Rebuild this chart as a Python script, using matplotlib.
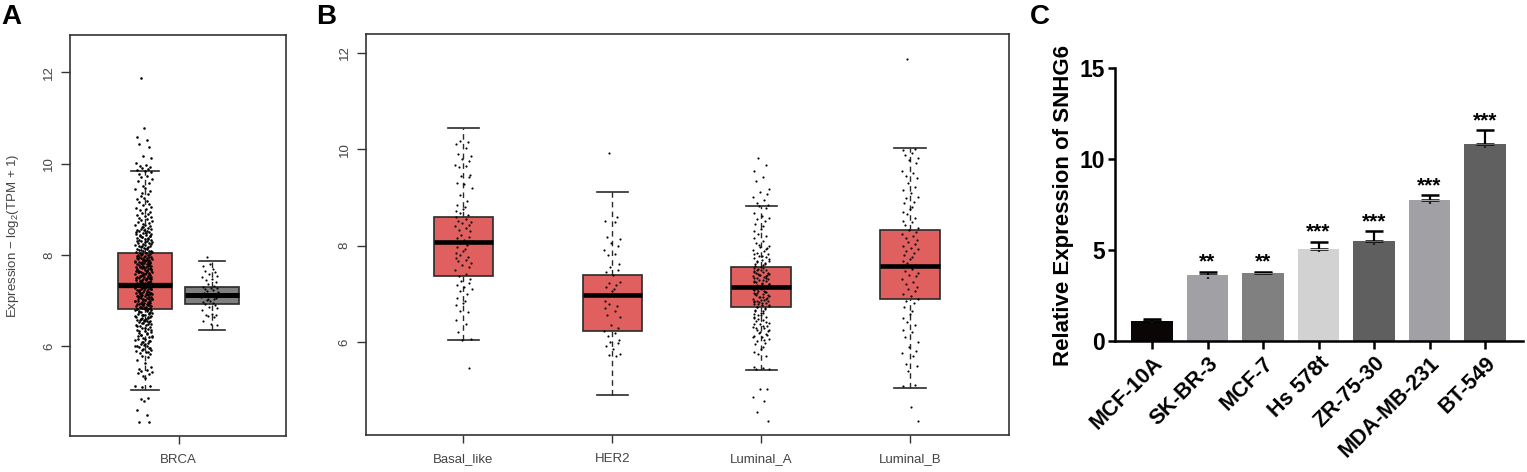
import matplotlib
matplotlib.use('Agg')
import matplotlib.pyplot as plt
import numpy as np

plt.rcParams['font.family'] = ['Liberation Sans', 'DejaVu Sans']
plt.rcParams['mathtext.fontset'] = 'custom'
plt.rcParams['mathtext.rm'] = 'Liberation Sans'

W, H = 1527, 472
RED = '#e06060'
GREY = '#7f7f7f'
EDGE = '#2a2a2a'
TXT = '#444444'

# panel A: low whisker, q1, median, q3, high whisker
brca_tumor_box = [5.05, 6.83, 7.35, 8.05, 9.85]
brca_normal_box = [6.37, 6.92, 7.12, 7.30, 7.87]

brca_tumor = [
    11.88, 10.78, 10.58, 10.52, 10.44, 10.37, 10.18, 10.12, 10.02, 9.98, 9.95, 9.93, 9.9, 9.88, 9.86, 9.84, 9.82,
    9.78, 9.74, 9.7, 9.66, 9.62, 9.57, 9.52, 9.47, 9.44, 9.4, 9.36, 9.33, 9.29, 9.26, 9.22, 9.19, 9.16, 9.12, 9.09,
    9.06, 9.03, 9.0, 8.98, 8.95, 8.93, 8.9, 8.88, 8.86, 8.83, 8.81, 8.79, 8.77, 8.74, 8.72, 8.7, 8.68, 8.67, 8.65,
    8.63, 8.61, 8.6, 8.58, 8.56, 8.55, 8.53, 8.52, 8.5, 8.49, 8.47, 8.46, 8.44, 8.43, 8.41, 8.4, 8.38, 8.37, 8.35,
    8.34, 8.33, 8.31, 8.3, 8.29, 8.27, 8.26, 8.25, 8.23, 8.22, 8.21, 8.19, 8.18, 8.17, 8.15, 8.14, 8.13, 8.12, 8.1,
    8.09, 8.08, 8.07, 8.05, 8.04, 8.03, 8.02, 8.0, 7.99, 7.98, 7.97, 7.96, 7.94, 7.93, 7.92, 7.91, 7.9, 7.89, 7.88,
    7.87, 7.86, 7.85, 7.84, 7.83, 7.82, 7.81, 7.8, 7.79, 7.78, 7.77, 7.76, 7.75, 7.74, 7.73, 7.72, 7.71, 7.7, 7.69,
    7.68, 7.67, 7.66, 7.65, 7.64, 7.63, 7.62, 7.61, 7.6, 7.59, 7.58, 7.57, 7.56, 7.55, 7.54, 7.53, 7.52, 7.51, 7.5,
    7.49, 7.48, 7.47, 7.46, 7.45, 7.44, 7.43, 7.42, 7.41, 7.4, 7.39, 7.38, 7.37, 7.36, 7.35, 7.34, 7.33, 7.32, 7.31,
    7.3, 7.29, 7.28, 7.27, 7.26, 7.25, 7.24, 7.23, 7.22, 7.21, 7.2, 7.19, 7.18, 7.17, 7.16, 7.15, 7.14, 7.13, 7.12,
    7.11, 7.1, 7.09, 7.08, 7.07, 7.06, 7.05, 7.04, 7.03, 7.02, 7.01, 7.0, 6.99, 6.98, 6.97, 6.96, 6.95, 6.94, 6.93,
    6.92, 6.91, 6.9, 6.89, 6.88, 6.87, 6.86, 6.85, 6.84, 6.83, 6.82, 6.81, 6.8, 6.78, 6.77, 6.75, 6.74, 6.72, 6.71,
    6.69, 6.68, 6.66, 6.65, 6.63, 6.62, 6.6, 6.59, 6.57, 6.56, 6.54, 6.53, 6.51, 6.5, 6.48, 6.46, 6.44, 6.42, 6.4,
    6.38, 6.36, 6.34, 6.32, 6.3, 6.28, 6.26, 6.24, 6.22, 6.2, 6.18, 6.16, 6.14, 6.12, 6.1, 6.08, 6.06, 6.04, 6.02,
    6.0, 5.98, 5.96, 5.94, 5.92, 5.9, 5.88, 5.86, 5.83, 5.8, 5.76, 5.7, 5.63, 5.55, 5.5, 5.48, 5.46, 5.44, 5.42, 5.4,
    5.36, 5.32, 5.14, 5.13, 5.12, 4.87, 4.86, 4.8, 4.6, 4.5, 4.35, 4.35,
]
# second pass over the solid middle of the BRCA strip
brca_tumor_core = [
    8.62, 8.57, 8.51, 8.48, 8.45, 8.42, 8.39, 8.36, 8.32, 8.28, 8.24, 8.2, 8.16, 8.11, 8.06, 8.01, 7.95, 7.92, 7.89,
    7.86, 7.83, 7.8, 7.77, 7.74, 7.71, 7.68, 7.65, 7.62, 7.59, 7.56, 7.53, 7.5, 7.47, 7.44, 7.41, 7.38, 7.35, 7.32,
    7.29, 7.26, 7.23, 7.2, 7.17, 7.14, 7.11, 7.08, 7.05, 7.02, 6.99, 6.96, 6.93, 6.9, 6.87, 6.84, 6.81, 6.79, 6.76,
    6.73, 6.7, 6.67, 6.64, 6.61, 6.58, 6.55, 6.52, 6.49, 6.45, 6.41, 6.37, 6.33, 6.29, 6.25, 6.21, 6.17, 6.13, 6.09,
    6.05, 6.01, 5.97, 5.93, 5.89, 8.0, 7.97, 7.94, 7.9, 7.85, 7.8, 7.75, 7.7, 7.65, 7.6, 7.55, 7.5, 7.45, 7.4, 7.35,
    7.3, 7.25, 7.2, 7.15, 7.1, 7.05, 7.0, 6.95, 6.9, 6.85, 6.8, 6.75, 6.7, 6.65, 6.6, 6.55,
]
brca_normal = [
    7.97, 7.8, 7.76, 7.7, 7.65, 7.62, 7.58, 7.55, 7.52, 7.48, 7.45, 7.42, 7.36, 7.33, 7.31, 7.29, 7.27, 7.25, 7.23,
    7.21, 7.19, 7.17, 7.15, 7.13, 7.11, 7.09, 7.07, 7.05, 7.03, 7.01, 6.99, 6.97, 6.95, 6.93, 6.9, 6.87, 6.84, 6.8,
    6.72, 6.7, 6.68, 6.66, 6.64, 6.55, 6.5, 6.48,
]

# panel B
subtypes = ['Basal_like', 'HER2', 'Luminal_A', 'Luminal_B']
subtype_boxes = [
    [6.05, 7.36, 8.07, 8.60, 10.44],
    [4.90, 6.22, 6.97, 7.40, 9.12],
    [5.42, 6.72, 7.14, 7.56, 8.82],
    [5.05, 6.90, 7.57, 8.33, 10.02],
]
basal_like = [
    10.18, 10.15, 10.1, 10.02, 9.9, 9.85, 9.8, 9.75, 9.68, 9.65, 9.63, 9.47, 9.44, 9.42, 9.3, 9.28, 9.2, 9.05, 8.92,
    8.85, 8.8, 8.76, 8.72, 8.68, 8.64, 8.6, 8.56, 8.52, 8.49, 8.46, 8.43, 8.4, 8.37, 8.33, 8.3, 8.22, 8.18, 8.15,
    8.12, 8.09, 8.05, 8.02, 7.98, 7.92, 7.88, 7.84, 7.8, 7.77, 7.74, 7.7, 7.67, 7.64, 7.6, 7.56, 7.5, 7.42, 7.36,
    7.3, 7.26, 7.22, 7.18, 7.14, 7.1, 7.05, 7.0, 6.92, 6.86, 6.8, 6.76, 6.65, 6.62, 6.45, 6.38, 6.2, 6.06, 6.05, 5.45,
]
her2 = [
    9.92, 8.6, 8.52, 8.48, 8.18, 8.14, 8.05, 8.0, 7.9, 7.82, 7.8, 7.62, 7.55, 7.5, 7.46, 7.38, 7.25, 7.22, 7.18,
    7.14, 7.1, 7.06, 6.85, 6.78, 6.75, 6.7, 6.65, 6.55, 6.52, 6.35, 6.28, 6.22, 6.18, 6.12, 6.05, 6.0, 5.97, 5.92,
    5.85, 5.75, 5.72, 5.7,
]
luminal_a = [
    9.82, 9.68, 9.55, 9.42, 9.35, 9.18, 9.12, 9.08, 9.0, 8.94, 8.88, 8.85, 8.82, 8.78, 8.68, 8.62, 8.58, 8.55, 8.5,
    8.45, 8.4, 8.35, 8.3, 8.25, 8.2, 8.15, 8.1, 8.05, 8.0, 7.97, 7.94, 7.91, 7.88, 7.85, 7.82, 7.79, 7.76, 7.74, 7.71,
    7.69, 7.66, 7.64, 7.61, 7.59, 7.56, 7.54, 7.52, 7.5, 7.48, 7.46, 7.44, 7.42, 7.4, 7.38, 7.36, 7.34, 7.32, 7.3,
    7.28, 7.26, 7.24, 7.22, 7.2, 7.18, 7.16, 7.14, 7.12, 7.1, 7.08, 7.06, 7.04, 7.02, 7.0, 6.98, 6.96, 6.94, 6.92,
    6.9, 6.88, 6.86, 6.84, 6.82, 6.8, 6.78, 6.76, 6.74, 6.72, 6.7, 6.67, 6.64, 6.61, 6.58, 6.55, 6.52, 6.49, 6.46,
    6.43, 6.4, 6.37, 6.34, 6.31, 6.28, 6.25, 6.22, 6.19, 6.16, 6.13, 6.1, 6.06, 6.02, 5.98, 5.95, 5.9, 5.85, 5.8, 5.75,
    5.7, 5.48, 5.46, 5.44, 5.43, 5.02, 5.02, 4.85, 4.78, 4.55, 4.37,
]
luminal_a_core = [
    8.02, 7.93, 7.83, 7.78, 7.72, 7.67, 7.62, 7.58, 7.53, 7.49, 7.45, 7.41, 7.37, 7.33, 7.29, 7.25, 7.21, 7.17, 7.13,
    7.09, 7.05, 7.01, 6.97, 6.93, 6.89, 6.85, 6.81, 6.77, 6.73, 6.69, 6.65, 6.6, 6.56, 6.51, 6.47, 6.42, 6.38, 6.33,
    6.29, 6.24, 6.2, 6.15, 6.11, 6.05, 7.5, 7.44, 7.38, 7.32, 7.26, 7.2, 7.15, 7.1, 7.04, 6.99, 6.94, 6.88, 6.83, 6.78,
]
luminal_b = [
    11.88, 10.0, 9.98, 9.92, 9.88, 9.82, 9.78, 9.72, 9.55, 9.5, 9.45, 9.4, 9.3, 9.22, 9.15, 9.1, 9.0, 8.98, 8.9, 8.88,
    8.8, 8.75, 8.7, 8.65, 8.58, 8.52, 8.48, 8.42, 8.36, 8.32, 8.28, 8.24, 8.2, 8.16, 8.12, 8.08, 8.04, 8.0, 7.96, 7.92,
    7.88, 7.84, 7.8, 7.76, 7.72, 7.68, 7.64, 7.6, 7.56, 7.52, 7.48, 7.44, 7.4, 7.36, 7.3, 7.25, 7.2, 7.15, 7.1, 7.05,
    7.0, 6.95, 6.9, 6.85, 6.8, 6.72, 6.65, 6.58, 6.5, 6.42, 6.35, 6.25, 6.2, 6.1, 6.0, 5.9, 5.82, 5.78, 5.7, 5.55,
    5.5, 5.4, 5.1, 5.08, 4.65, 4.37,
]
jitter_a = [-0.04, 0.0, -0.1, 0.05, -0.08, 0.08, -0.02, 0.11, -0.12, 0.03, -0.06, 0.09, -0.03, 0.06, -0.11, 0.01, 0.1,
            -0.07, 0.04, -0.05, 0.12, -0.09, 0.07, -0.01, 0.02, -0.13, 0.085, -0.035, 0.055]
jitter_b = [-0.02, 0.03, -0.05, 0.015, -0.035, 0.05, -0.01, 0.04, -0.055, 0.02, -0.03, 0.045, -0.015, 0.035, -0.045,
            0.005, 0.055, -0.025, 0.025, -0.04, 0.01, 0.0, -0.05]

# panel C
cell_lines = ['MCF-10A', 'SK-BR-3', 'MCF-7', 'Hs 578t', 'ZR-75-30', 'MDA-MB-231', 'BT-549']
expression = [1.10, 3.60, 3.72, 5.08, 5.50, 7.75, 10.82]
expression_err = [0.12, 0.20, 0.08, 0.37, 0.55, 0.25, 0.78]
stars = ['', '**', '**', '***', '***', '***', '***']
bar_colors = ['#0a0606', '#a0a0a5', '#808080', '#d2d2d2', '#5f5f5f', '#a0a0a5', '#606060']


def px_axes(fig, left, top, right, bottom):
    return fig.add_axes([left / W, 1 - bottom / H, (right - left) / W, (bottom - top) / H])


def draw_box(ax, x, stats, color, width, capw, vals, jitter, size, med_lw, shift=0.0):
    lo, q1, med, q3, hi = stats
    ax.plot([x, x], [lo, q1], color=EDGE, lw=1, ls=(0, (4, 3)), zorder=1)
    ax.plot([x, x], [q3, hi], color=EDGE, lw=1, ls=(0, (4, 3)), zorder=1)
    ax.plot([x - capw / 2, x + capw / 2], [lo, lo], color=EDGE, lw=1.2, zorder=1)
    ax.plot([x - capw / 2, x + capw / 2], [hi, hi], color=EDGE, lw=1.2, zorder=1)
    ax.bar(x, q3 - q1, width=width, bottom=q1, color=color, edgecolor=EDGE, lw=1.2, zorder=2)
    ax.plot([x - width / 2, x + width / 2], [med, med], color='black', lw=med_lw, solid_capstyle='butt', zorder=3)
    xs = [x + shift + jitter[i % len(jitter)] for i in range(len(vals))]
    ax.scatter(xs, vals, s=size, color='black', lw=0, zorder=4)


def style_box_axes(ax):
    for s in ax.spines.values():
        s.set_linewidth(1.2)
        s.set_color('#333333')
    ax.tick_params(axis='y', colors='#333333', labelcolor=TXT, labelsize=9.5, length=6.2, width=1, pad=4.5)
    ax.tick_params(axis='x', colors='#333333', labelcolor=TXT, labelsize=9.5, length=5.8, width=1, pad=7)
    ax.set_yticks([6, 8, 10, 12])
    for t in ax.get_yticklabels():
        t.set_rotation(90)
        t.set_va('center')


fig = plt.figure(figsize=(W / 100, H / 100), dpi=100)

# A
ax1 = px_axes(fig, 70, 35, 286, 436)
draw_box(ax1, 1, brca_tumor_box, RED, 0.8, 0.42, brca_tumor + brca_tumor_core, jitter_a, 3.4, 3.8, -0.015)
draw_box(ax1, 2, brca_normal_box, GREY, 0.8, 0.4, brca_normal, jitter_a, 2.4, 3.6, -0.03)
ax1.set_xlim(1 - 75 / 67, 2 + 74 / 67)
ax1.set_ylim(4.04, 12.82)
ax1.set_xticks([1.5])
ax1.set_xticklabels(['BRCA'])
style_box_axes(ax1)
ax1.set_ylabel(r'Expression $-$ log$_2$(TPM $+$ 1)', fontsize=9.5, color=TXT)
ax1.yaxis.set_label_coords((21 - 70) / 216, 0.5)

# B
ax2 = px_axes(fig, 365.5, 34, 1009, 435)
subtype_dots = [basal_like, her2, luminal_a + luminal_a_core, luminal_b]
for i, (stats, vals) in enumerate(zip(subtype_boxes, subtype_dots)):
    draw_box(ax2, i + 1, stats, RED, 0.4, 0.21, vals, jitter_b, 2.4, 3.3)
ax2.set_xlim(1 - 98 / 149, 4 + 99 / 149)
ax2.set_ylim(4.07, 12.39)
ax2.set_xticks([1, 2, 3, 4])
ax2.set_xticklabels(subtypes)
style_box_axes(ax2)

# C
ax3 = px_axes(fig, 1115, 68, 1523, 341)
x = np.arange(len(cell_lines))
ax3.bar(x, expression, width=0.74, color=bar_colors, zorder=2)
ax3.errorbar(x, expression, yerr=[[0] * len(x), expression_err], fmt='none', ecolor='black',
             elinewidth=1.6, capsize=6.5, capthick=1.8, zorder=3)
# lower cap of each error bar is not shown, only the short stem inside the bar
ax3.vlines(x, [v - min(e, 0.2) for v, e in zip(expression, expression_err)], expression,
           color='#222222', lw=1.6, zorder=3)
# hide the zero-length lower caps by painting the bar top back over them
ax3.bar(x, [0.06] * len(x), bottom=[v - 0.06 for v in expression], width=0.74, color=bar_colors, zorder=4)
for xi, v, e, s in zip(x, expression, expression_err, stars):
    ax3.text(xi, v + e + 0.52, s, ha='center', va='center', fontsize=15, fontweight='bold')
ax3.set_xlim(-37 / 55.5, 6 + 38 / 55.5)
ax3.set_ylim(0, 15)
ax3.set_yticks([0, 5, 10, 15])
ax3.set_xticks(x)
ax3.set_xticklabels(cell_lines, rotation=45, ha='right', rotation_mode='anchor', fontsize=15.5, fontweight='bold')
ax3.tick_params(axis='y', labelsize=16.5, length=5, width=1.8, pad=2)
ax3.tick_params(axis='x', length=5.5, width=1.8, pad=3)
for t in ax3.get_yticklabels():
    t.set_fontweight('bold')
ax3.spines['top'].set_visible(False)
ax3.spines['right'].set_visible(False)
ax3.spines['left'].set_linewidth(1.8)
ax3.spines['bottom'].set_linewidth(1.8)
ax3.set_ylabel('Relative Expression of SNHG6', fontsize=16, fontweight='bold')
ax3.yaxis.set_label_coords((1074 - 1115) / (1523 - 1115), (341 - 205) / 273)

# panel letters
for letter, lx in zip('ABC', [1, 316, 1030]):
    fig.text(lx / W, 1 - 17 / H, letter, fontsize=20, fontweight='bold', ha='left', va='center')

fig.savefig('out.png', dpi=100)
